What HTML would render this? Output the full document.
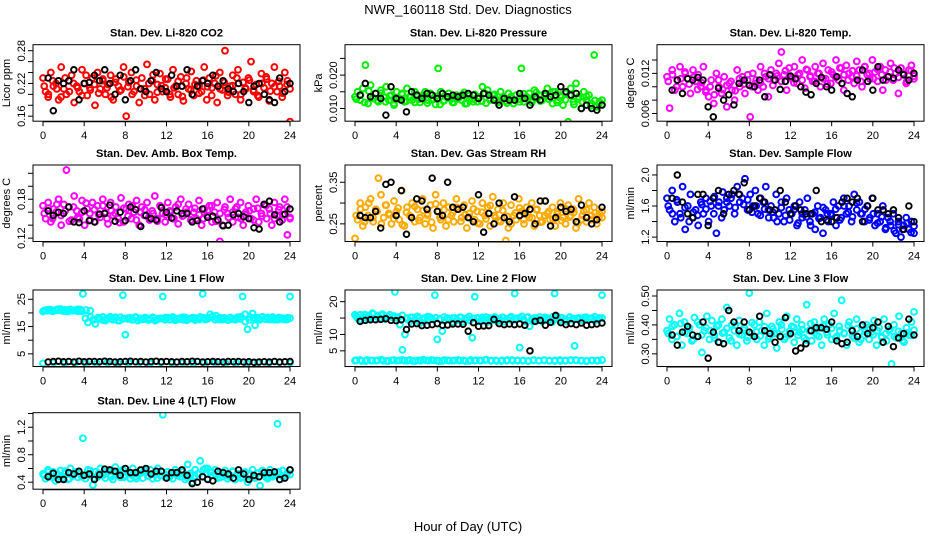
<!DOCTYPE html>
<html><head><meta charset="utf-8"><style>
body{margin:0;background:#fff}
svg{display:block;font-family:"Liberation Sans",sans-serif}
</style></head><body>
<svg id="chart" width="936" height="540" viewBox="0 0 936 540" xmlns="http://www.w3.org/2000/svg">
<rect x="0" y="0" width="936" height="540" fill="#fff"/>
<text x="468" y="14" font-size="13" text-anchor="middle">NWR_160118  Std. Dev. Diagnostics</text>
<text x="468" y="531" font-size="13" text-anchor="middle">Hour of Day (UTC)</text>
</svg>
<script>
// ---- data ----
const xTicks = [0,4,8,12,16,20,24];
const co2 = [230,205,195,240,215,220,190,250,210,200,225,235,185,215,205,245,220,198,212,230,180,240,210,225,
200,218,235,190,228,215,208,250,160,222,240,205,215,185,230,210,255,200,225,190,218,238,205,212,
228,195,245,215,200,232,188,220,210,242,198,225,215,205,250,190,230,212,220,185,240,208,280,198,
215,235,200,245,190,222,210,230,260,205,218,195,238,212,228,188,220,250,205,215,195,240,225,150];
const co2B = [215,200,225,210,195,230,205,220,212,198,235,208,218,202,228,212,195,222,206,232,214,200,226,210,
198,220,236,204,216,228,200,212,224,196,230,208,218,202,226,214,198,234,210,222,204,216,230,200,
212,226,208,198,220,232,206,214,224,202,218,210];
const co2Ref = [230,170,225,220,225,245,190,220,222,235,225,245,220,200,235,190,225,245,210,205,225,240,210,205,235,215,215,245,200,215,225,220,235,215,225,210,205,220,205,185,215,220,200,190,185,230,205,220];
const pres = [135,150,125,160,230,115,170,130,145,120,155,135,165,125,140,110,150,130,145,120,160,135,125,150,
140,118,132,150,125,145,130,112,220,150,122,135,145,128,118,140,132,125,148,115,138,128,142,120,
135,165,145,155,125,140,130,118,150,135,122,145,130,115,140,128,220,120,135,145,118,155,130,140,
125,145,160,135,115,150,125,140,110,145,60,160,120,175,135,100,150,125,140,115,260,105,120,125];
const presB = [128,140,118,152,132,124,146,120,138,115,130,142,122,134,118,128,140,116,126,136,112,124,132,118,
128,138,114,126,120,134,122,116,130,142,120,128,116,136,124,120,144,132,126,148,122,138,128,150,
118,134,126,140,112,128,120,136,108,124,116,112];
const presRef = [140,175,135,145,130,80,165,130,125,90,150,140,130,145,140,130,145,135,140,135,140,145,140,130,145,140,125,110,130,125,125,145,130,110,135,125,145,135,140,165,150,140,145,100,110,100,95,110];
const ltemp = [115,68,125,95,110,130,100,120,112,90,125,108,118,100,130,95,85,110,75,120,100,90,115,70,
105,95,80,125,100,115,90,110,55,120,105,95,130,100,115,85,125,110,120,135,152,118,95,128,
112,130,105,120,140,98,125,115,108,130,120,100,135,112,125,105,118,140,110,128,95,132,120,115,
105,138,125,100,130,118,112,140,122,108,130,95,125,115,135,110,120,90,128,118,105,125,132,112];
const ltempB = [108,118,100,112,122,104,114,96,106,92,100,88,110,96,102,108,94,112,104,118,100,110,106,120,
112,102,116,108,124,114,106,118,110,126,116,108,120,112,104,122,114,128,118,110,124,116,108,130,
120,112,126,118,110,122,128,114,120,108,124,116];
const ltempRef = [95,110,90,112,110,114,110,70,55,98,80,88,73,105,110,102,100,110,85,118,110,96,108,116,112,100,92,88,105,114,100,95,115,105,90,85,110,125,108,95,130,110,115,113,125,118,110,120];
const amb = [170,150,175,145,165,160,180,140,172,225,168,148,185,162,150,178,140,165,158,175,145,170,152,180,
160,142,175,155,168,150,182,145,165,172,150,160,178,140,168,155,175,148,162,185,150,170,158,145,
175,160,150,168,142,180,155,165,172,148,160,150,178,140,165,155,170,145,160,175,115,140,168,158,
180,145,165,152,175,140,160,170,150,165,180,145,158,172,150,165,140,175,155,168,148,180,125,150];
const ambB = [158,166,150,172,155,162,146,168,152,160,174,148,164,156,170,150,162,158,144,166,154,170,148,160,
164,152,158,146,168,156,162,150,172,154,160,148,166,156,150,162,170,146,158,164,152,160,168,150,
156,162,148,166,154,170,158,150,164,156,168,152];
const ambRef = [162,155,160,158,168,145,144,162,147,145,157,158,171,146,160,147,168,164,138,155,150,148,167,160,151,162,158,158,145,147,165,152,154,148,139,140,156,158,153,150,136,134,172,177,156,145,157,165];
const rh = [215,260,300,245,290,270,310,255,285,360,320,265,295,275,250,305,280,260,330,245,290,270,300,255,
285,265,310,250,275,295,240,320,280,260,300,245,290,270,255,310,285,265,295,240,275,305,260,280,
250,300,270,290,245,315,265,285,255,300,210,240,295,270,260,310,280,250,290,265,300,245,285,270,
255,305,275,260,290,245,280,300,265,250,295,270,285,240,310,260,280,255,300,270,290,250,275,265];
const rhB = [270,285,255,300,265,280,250,295,272,262,288,248,278,268,292,258,282,270,254,298,266,284,260,276,
290,256,272,266,286,252,278,262,294,270,258,282,268,250,276,288,260,272,264,284,254,270,280,262,
274,258,286,266,278,252,270,284,260,276,266,280];
const rhRef = [270,265,265,280,240,345,350,270,330,225,265,310,305,285,360,280,270,350,290,285,290,265,255,320,230,275,250,300,265,255,315,270,275,285,250,305,305,245,265,290,280,285,255,295,265,250,260,290];
const sflow = [170,155,180,140,165,150,185,130,160,175,145,155,135,165,150,170,140,160,150,125,165,145,155,170,
160,175,150,185,165,170,195,155,175,160,180,150,170,165,185,155,160,145,175,150,165,140,170,155,
150,160,135,165,145,155,170,140,150,130,160,145,125,155,140,150,165,135,160,145,170,150,160,140,
175,155,165,150,140,160,145,170,135,150,140,160,130,145,135,150,125,140,120,135,145,130,140,125];
const sflowB = [160,150,168,145,158,140,152,148,162,156,166,172,160,178,165,170,158,175,162,168,152,160,148,156,
145,152,140,158,148,142,155,138,150,146,135,152,144,158,150,148,156,142,160,152,146,164,150,156,
142,150,138,146,132,140,128,136,130,138,126,134];
const sflowRef = [170,200,165,150,145,175,175,135,170,180,150,175,180,175,190,155,160,170,165,155,155,180,165,150,160,155,150,150,180,140,142,140,145,165,170,165,170,140,160,170,155,155,150,155,145,130,160,140];
const line1 = [20.5,21,20.8,21.2,20.6,21,21.4,20.9,20.7,21.1,20.5,21.3,20.8,21,20.6,21.2,27,18,16.5,18.5,
17.5,16,18.2,17.8,18.5,17.2,17.8,18.6,17.5,18,17.2,18.4,26.5,12,17.8,18.2,17.5,18.5,17.2,18,
17.6,18.3,17.5,17.9,18.4,17.2,17.8,18,26,17.5,18.2,17.6,18.5,17.3,17.8,18.1,17.5,18.3,17.6,17.9,
18.2,17.4,17.9,18.5,27,17.6,18.2,19.5,18.8,17.5,17.8,18.2,17.6,18,17.4,18.3,17.8,17.5,18.4,17.8,
26,19.5,14,18.5,19.8,15.5,18.2,17.5,18.6,17.8,18.3,17.6,18.5,17.9,17.5,17.8,18.1,17.6,18.2,26];
const line1B = [20.8,21.2,20.6,21,21.4,20.7,21.1,20.9,21.3,20.6,21,20.8,17.6,18.2,17.4,18,17.8,18.4,17.2,17.9,
18.1,17.5,18.3,17.7,18,17.4,18.2,17.6,17.9,18.3,17.5,18,17.7,18.4,17.3,17.9,18.1,17.6,18.2,17.8,
18.5,19,17.6,18.2,17.4,17.8,18,18.6,16.8,17.5,18.2,17.6,18.4,17.7,18,17.5,18.3,17.8,17.6,18.1];
const line1Low = [1.5,1.8,1.6,1.9,1.7,1.5,1.8,1.6,1.7,1.9,1.5,1.8,1.6,1.7,1.5,1.8,1.9,1.6,1.7,1.5,1.8,1.6,1.9,1.7];
const line1Ref = [2.0,2.2,2.3,2.1,2.2,2.0,2.3,2.1,2.2,2.2,2.1,2.3,2.2,2.0,2.1,2.2,2.3,2.1,2.2,2.0,2.2,2.3,2.1,2.2,2.1,2.0,2.2,2.1,2.3,2.2,2.0,2.1,2.2,2.1,2.0,2.2,2.1,2.2,2.0,2.1,1.9,2.0,2.1,2.0,2.2,2.0,2.1,2.2];
const line2 = [16,15,14.5,15.5,16,14.8,15.2,16.5,14.6,15.8,15,16.2,14.7,15.5,16,15.2,23,15,13,5.3,
10,15,14,15.2,14.6,15.5,13.5,14.8,15,14.2,15.3,14.6,22,8.5,14.8,11,14.2,15,14.5,13.8,
15,14.4,15.2,13.8,14.7,15,14.2,9,21.5,14.8,14,15.2,14.5,13.8,15,14.3,15.3,14,14.8,15.2,
13.9,14.6,15,14.2,22.5,14.8,6,15.5,14,15.2,12.5,14.6,15,14.2,15.3,14,14.7,15,14.4,13.8,
22.5,15.5,14.3,15,14.5,14,15.2,14.6,6.5,14.8,15,14.3,15.2,14.5,14.8,15,14.2,14.6,15,22];
const line2B = [15.5,16,15.2,15.8,16.2,15.4,15.9,15.1,16,15.6,15.3,15.8,14.8,15.2,14.5,15,14.7,15.4,14.9,15.1,
14.6,15.3,14.8,15,14.4,15.2,14.7,15.5,14.9,15.1,14.6,15.3,14.8,15,14.5,15.2,14.7,15.4,14.9,15.1,
14.6,15.3,14.8,15,14.5,15.2,14.7,15.4,14.9,15.1,14.6,15.3,14.8,15,14.5,15.2,14.7,15.4,14.9,15];
const line2Low = [2,2.2,1.9,2.1,2,2.3,1.9,2.1,2,2.2,2,1.9,2.1,2.3,2,2.1,1.9,2.2,2,2.1,2,1.9,2.2,2.1,2,2.3,2,1.9,2.1,2.2,2,2,2.1,1.9,2.2,2,2.1,2,1.9,2.2,2,2.1,2.2,2,1.9,2.1,2,2.2];
const line2LowB = [2.1,1.9,2.2,2,2.1,2,1.9,2.2,2.1,2,2.2,1.9,2,2.1,2.2,2,1.9,2.1,2,2.2,2.1,1.9,2,2.1,2.2,2,2.1,1.9,2,2.2,2.1,2,1.9,2.1,2,2.2,2,2.1,1.9,2,2.2,2.1,2,1.9,2.1,2,2.2];
const line2Ref = [14,14.3,14.5,14.5,14.6,14.8,14.3,14.2,14.5,11.5,13.2,13.3,12.7,12.8,13,13.3,12.8,12.9,13.2,13.2,13.1,11,13.6,12.5,12.6,12.7,14.6,13.3,13,13.2,13,13.2,12.8,5,14,14.3,12.8,13.7,15.8,13.6,13,13.3,13,13.5,12.8,13,13.2,13.5];
const line3 = [380,420,350,400,360,440,330,410,370,390,345,425,360,400,305,380,430,350,415,365,
395,340,420,375,460,355,400,380,330,415,365,390,345,510,370,400,350,410,380,330,
440,360,395,370,320,410,385,350,430,365,395,340,420,375,400,355,470,380,345,410,
365,390,330,420,375,400,350,440,360,395,485,370,330,410,385,355,420,340,395,365,
400,350,375,415,330,390,360,420,345,380,265,400,355,430,370,340,390,365,410,445];
const line3B = [370,395,360,405,375,385,350,410,365,390,380,355,400,372,388,345,398,368,382,358,
408,376,362,394,352,386,370,400,358,378,392,364,384,348,404,374,360,396,366,388,
354,380,372,398,362,386,350,376,392,366,380,356,370,386,360,378,346,372,364,382];
const line3Ref = [365,330,375,395,365,360,410,285,375,340,335,450,410,380,410,375,360,430,380,370,340,360,425,370,310,320,335,380,390,390,385,410,345,335,340,380,360,400,370,390,410,340,395,325,355,370,420,365];
const line4 = [52,45,58,48,55,42,50,57,46,53,44,60,49,55,47,52,104,45,58,50,
36,55,48,60,52,46,57,50,44,62,53,47,58,50,55,45,60,48,52,57,
46,54,49,58,45,52,60,50,138,47,55,50,45,58,52,48,55,44,66,50,
40,58,52,71,48,60,45,55,50,58,46,53,48,57,45,50,56,44,52,52,
48,55,40,52,58,46,53,35,57,50,45,58,48,52,125,44,57,50,53,58];
const line4B = [50,55,47,53,49,56,45,52,54,48,51,57,46,53,50,55,48,52,56,47,
54,50,45,53,57,49,52,46,55,51,48,54,50,56,47,53,49,52,58,60,
55,50,47,53,49,55,51,46,54,50,48,53,56,47,52,50,55,48,53,51];
const line4Ref = [48,53,44,44,54,52,56,50,52,44,51,59,58,56,50,60,54,54,58,60,52,56,56,46,54,54,58,50,38,40,48,44,42,56,54,52,46,58,52,44,50,48,54,54,55,44,46,58];

// ---- layout ----
const rowTop = [44.7,165,290,412.7];
const boxH = 76.5;
const panels = [
 {t:'Stan. Dev. Li-820 CO2',yl:'Licor ppm',r:0,c:0,lim:[0.1508,0.291],sc:1000,ticks:[0.16,0.18,0.20,0.22,0.24,0.26,0.28],labs:[0.16,0.22,0.28],dig:2,col:'#ff0000',main:[co2,co2B],ref:co2Ref},
 {t:'Stan. Dev. Li-820 Pressure',yl:'kPa',r:0,c:1,lim:[0.00619,0.0291],sc:10000,ticks:[0.010,0.015,0.020,0.025],labs:[0.010,0.020],dig:3,col:'#00ee00',main:[pres,presB],ref:presRef},
 {t:'Stan. Dev. Li-820 Temp.',yl:'degrees C',r:0,c:2,lim:[0.00485,0.01629],sc:10000,ticks:[0.006,0.008,0.010,0.012,0.014],labs:[0.006,0.012],dig:3,col:'#ff00ff',main:[ltemp,ltempB],ref:ltempRef},
 {t:'Stan. Dev. Amb. Box Temp.',yl:'degrees C',r:1,c:0,lim:[0.1148,0.2328],sc:1000,ticks:[0.12,0.14,0.16,0.18,0.20,0.22],labs:[0.12,0.18],dig:2,col:'#ff00ff',main:[amb,ambB],ref:ambRef},
 {t:'Stan. Dev. Gas Stream RH',yl:'percent',r:1,c:1,lim:[0.2076,0.3915],sc:1000,ticks:[0.25,0.30,0.35],labs:[0.25,0.35],dig:2,col:'#ffaa00',main:[rh,rhB],ref:rhRef},
 {t:'Stan. Dev. Sample Flow',yl:'ml/min',r:1,c:2,lim:[1.1435,2.128],sc:100,ticks:[1.2,1.4,1.6,1.8,2.0],labs:[1.2,1.6,2.0],dig:1,col:'#0000ff',main:[sflow,sflowB],ref:sflowRef},
 {t:'Stan. Dev. Line 1 Flow',yl:'ml/min',r:2,c:0,lim:[0.36,28.4],sc:1,ticks:[5,10,15,20,25],labs:[5,15,25],dig:0,col:'#00ffff',main:[line1,line1B,line1Low],ref:line1Ref},
 {t:'Stan. Dev. Line 2 Flow',yl:'ml/min',r:2,c:1,lim:[0.22,23.56],sc:1,ticks:[5,10,15,20],labs:[5,10,20],dig:0,col:'#00ffff',main:[line2,line2B,line2Low,line2LowB],ref:line2Ref},
 {t:'Stan. Dev. Line 3 Flow',yl:'ml/min',r:2,c:2,lim:[0.2562,0.5207],sc:1000,ticks:[0.30,0.35,0.40,0.45,0.50],labs:[0.30,0.40,0.50],dig:2,col:'#00ffff',main:[line3,line3B],ref:line3Ref},
 {t:'Stan. Dev. Line 4 (LT) Flow',yl:'ml/min',r:3,c:0,lim:[0.298,1.412],sc:100,ticks:[0.4,0.6,0.8,1.0,1.2,1.4],labs:[0.4,0.8,1.2],dig:1,col:'#00ffff',main:[line4,line4B],ref:line4Ref}
];
const NS='http://www.w3.org/2000/svg';
const svg=document.getElementById('chart');
function mk(tag,attrs,parent){const e=document.createElementNS(NS,tag);for(const k in attrs)e.setAttribute(k,attrs[k]);(parent||svg).appendChild(e);return e;}

panels.forEach((p,pi)=>{
  const g=mk('g',{});
  
  
  const ox=p.c*312, top=rowTop[p.r], bot=top+boxH;
  const x0=43+ox, x24=290+ox;
  const xs=h=>x0+(x24-x0)*h/24;
  const ys=v=>bot-(v-p.lim[0])/(p.lim[1]-p.lim[0])*boxH;
  const clip='clip'+pi;
  const cp=mk('clipPath',{id:clip},g);
  mk('rect',{x:33+ox,y:top,width:267,height:boxH},cp);
  const pts=mk('g',{'clip-path':'url(#'+clip+')'},g);
  
  
  p.main.forEach((arr,ai)=>{
    const off=ai%2===1?0.12:0;
    arr.forEach((v,i)=>{
      const h=Math.min(24,off+i*24/(arr.length-1));
      const c=mk('circle',{cx:xs(h),cy:ys(v/p.sc),r:2.9,fill:'none',stroke:p.col,'stroke-width':2},pts);
      
      
    });
  });
  p.ref.forEach((v,i)=>{
    const c=mk('circle',{cx:xs(0.5+i*23.5/(p.ref.length-1)),cy:ys(v/p.sc),r:2.8,fill:'none',stroke:'#000','stroke-width':1.9},pts);
    
    
  });
  const box=mk('rect',{x:33+ox,y:top,width:267,height:boxH,fill:'none',stroke:'#000','stroke-width':1},g);
  
  
  const tt=mk('text',{x:166.5+ox,y:top-8,'font-size':11,'font-weight':'bold','text-anchor':'middle'},g);
  tt.textContent=p.t;
  
  
  xTicks.forEach(h=>{
    mk('line',{x1:xs(h),x2:xs(h),y1:bot,y2:bot+5,stroke:'#000'},g);
    const t=mk('text',{x:xs(h),y:bot+18,'font-size':11,'text-anchor':'middle'},g);
    t.textContent=h;
    
    
  });
  mk('line',{x1:xs(0),x2:xs(24),y1:bot+0.5,y2:bot+0.5,stroke:'#000'},g);
  p.ticks.forEach(v=>{mk('line',{x1:33+ox,x2:28+ox,y1:ys(v),y2:ys(v),stroke:'#000'},g);});
  p.labs.forEach(v=>{
    const yy=ys(v);
    const t=mk('text',{x:25+ox,y:yy,'font-size':11,'text-anchor':'middle',transform:'rotate(-90 '+(25+ox)+' '+yy+')'},g);
    t.textContent=v.toFixed(p.dig);
    
    
  });
  const cy=(top+bot)/2;
  const yl=mk('text',{x:10+ox,y:cy,'font-size':11,'text-anchor':'middle',transform:'rotate(-90 '+(10+ox)+' '+cy+')'},g);
  yl.textContent=p.yl;
  
  
});
</script>
</body></html>
